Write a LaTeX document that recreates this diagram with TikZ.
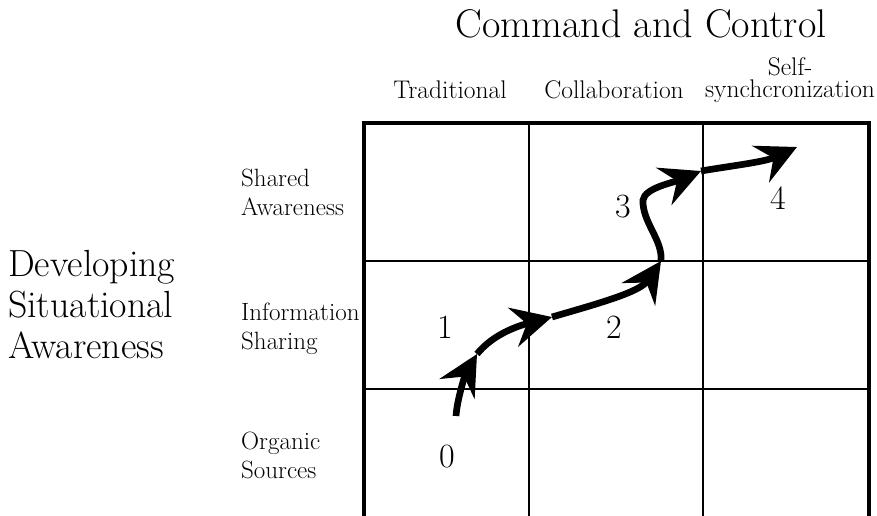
\documentclass[tikz,border=0pt]{standalone}
\usepackage{fontspec}
\usetikzlibrary{arrows.meta}
\begin{document}
\begin{tikzpicture}[x=1pt,y=-1pt,
  gridline/.style={line width=1.2pt},
  frameline/.style={line width=3.5pt},
  flow/.style={line width=6.7pt,-{Stealth[length=40pt,width=40pt,inset=14pt]}},
  title/.style={font=\fontsize{40}{44}\selectfont,inner sep=0pt},
  axis/.style={font=\fontsize{37.8}{41}\selectfont,inner sep=0pt,align=left},
  lab/.style={font=\fontsize{25}{28.5}\selectfont,inner sep=0pt,align=left},
  col/.style={font=\fontsize{25.5}{22}\selectfont,inner sep=0pt,align=center},
  num/.style={font=\fontsize{34}{40}\selectfont,inner sep=0pt}
]
\useasboundingbox (0,0) rectangle (877,515);
% grid
\coordinate (c0t) at (364,123); \coordinate (c0b) at (364,520);
\coordinate (c3t) at (869,123); \coordinate (c3b) at (869,520);
\coordinate (c1t) at (529,123); \coordinate (c1b) at (529,520);
\coordinate (c2t) at (703,123); \coordinate (c2b) at (703,520);
\coordinate (r1l) at (364,261); \coordinate (r1r) at (869,261);
\coordinate (r2l) at (364,389); \coordinate (r2r) at (869,389);
\draw[gridline] (c1t) -- (c1b) (c2t) -- (c2b) (r1l) -- (r1r) (r2l) -- (r2r);
\draw[frameline] (c0b) -- (c0t) -- (c3t) -- (c3b);
% texts
\node[title,anchor=base] (cc) at (641,37) {Command and Control};
\node[col,anchor=base] (trad) at (450,98) {Traditional};
\node[col,anchor=base] (coll) at (614,98) {Collaboration};
\node[col,anchor=base] (self) at (790,97) {Self-\\synchcronization};
\node[axis,anchor=base west] (dsa) at (8,358) {Developing\\Situational\\Awareness};
\node[lab,anchor=base west] (sa) at (241,215) {Shared\\Awareness};
\node[lab,anchor=base west] (is) at (241,349) {Information\\Sharing};
\node[lab,anchor=base west] (os) at (241,478) {Organic\\Sources};
% numbers
\node[num] (n0) at (447,457) {0};
\node[num] (n1) at (445,327) {1};
\node[num] (n2) at (614,327) {2};
\node[num] (n3) at (623,207) {3};
\node[num] (n4) at (778,198) {4};
% path
\coordinate (p0) at (456,416);
\coordinate (p1) at (477,354);
\coordinate (p2) at (552,317);
\coordinate (p3) at (661,261);
\coordinate (p4) at (701,171);
\coordinate (p5) at (797,147);
\draw[flow] (p0) .. controls (457,400) and (465,375) .. (p1);
\draw[flow] (p1) .. controls (490,338) and (510,328) .. (p2);
\draw[flow] (p2) .. controls (600,303) and (640,292) .. (p3);
\draw[flow] (p3) .. controls (663,240) and (642,222) .. (643,200) .. controls (645,188) and (672,183) .. (p4);
\draw[flow] (p4) .. controls (730,166) and (765,162) .. (p5);
\end{tikzpicture}
\end{document}
